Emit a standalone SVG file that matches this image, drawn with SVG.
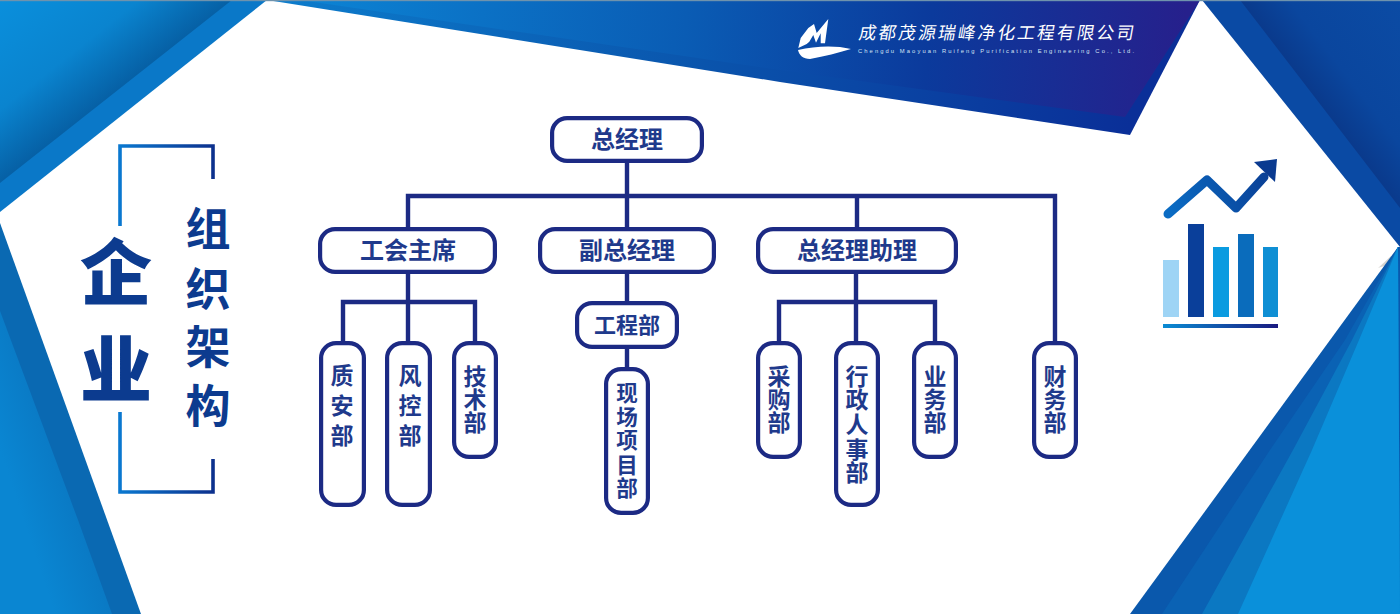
<svg xmlns="http://www.w3.org/2000/svg" width="1400" height="614" viewBox="0 0 1400 614">
<style>
.box{fill:#fff;stroke:#1c2a84;stroke-width:4.2}
.lbl{font-family:"Noto Sans CJK SC","Noto Sans",sans-serif;font-weight:700;fill:#1f3a8c;text-anchor:middle}
.h{font-size:24px}.v{font-size:23px}.vs{font-size:21.5px}
.conn{fill:none;stroke:#1c2a84;stroke-width:4.4}
.title{font-family:"Noto Sans CJK SC","Noto Sans",sans-serif;fill:#0c3b8f;text-anchor:middle}
</style>
<defs>
<linearGradient id="gTL" gradientUnits="userSpaceOnUse" x1="0" y1="0" x2="89" y2="113"><stop offset="0" stop-color="#0a8fdc"/><stop offset=".6" stop-color="#0a84cf"/><stop offset="1" stop-color="#0660a5"/></linearGradient>
<linearGradient id="gBand" gradientUnits="userSpaceOnUse" x1="280" y1="0" x2="1180" y2="80"><stop offset="0" stop-color="#0c86d6"/><stop offset=".45" stop-color="#0a5cb4"/><stop offset=".72" stop-color="#0b3a9c"/><stop offset="1" stop-color="#26208c"/></linearGradient>
<linearGradient id="gBandEdge" gradientUnits="userSpaceOnUse" x1="280" y1="0" x2="1130" y2="130"><stop offset="0" stop-color="#0c7ccc"/><stop offset=".5" stop-color="#0a54ac"/><stop offset="1" stop-color="#0a2f98"/></linearGradient>
<linearGradient id="gTR" gradientUnits="userSpaceOnUse" x1="1400" y1="0" x2="1300" y2="77"><stop offset="0" stop-color="#0b4ba4"/><stop offset=".7" stop-color="#0a469e"/><stop offset="1" stop-color="#0a3a8c"/></linearGradient>
<linearGradient id="gBL" gradientUnits="userSpaceOnUse" x1="0" y1="450" x2="90" y2="420"><stop offset="0" stop-color="#0a86d2"/><stop offset="1" stop-color="#0a70ba"/></linearGradient>
<linearGradient id="gBrk" gradientUnits="userSpaceOnUse" x1="120" y1="0" x2="215" y2="0"><stop offset="0" stop-color="#0a78d0"/><stop offset="1" stop-color="#0c2f8c"/></linearGradient>
<linearGradient id="gBase" gradientUnits="userSpaceOnUse" x1="1163" y1="0" x2="1278" y2="0"><stop offset="0" stop-color="#0a8cd4"/><stop offset="1" stop-color="#1a1a80"/></linearGradient>
<linearGradient id="gArrow" gradientUnits="userSpaceOnUse" x1="1165" y1="200" x2="1278" y2="165"><stop offset="0" stop-color="#0a6cc4"/><stop offset="1" stop-color="#0a3a90"/></linearGradient>
<linearGradient id="gCurl" gradientUnits="userSpaceOnUse" x1="1382" y1="250" x2="1396" y2="262"><stop offset="0" stop-color="#fff"/><stop offset="1" stop-color="#b8b4ae"/></linearGradient>
</defs>
<rect width="1400" height="614" fill="#fff"/>
<g id="background">
<polygon points="0,0 267,0 0,212" fill="#0a78c8"/>
<polygon points="0,0 232,0 0,183" fill="url(#gTL)"/>
<polygon points="0,223 141,614 0,614" fill="#0a69b2"/>
<polygon points="0,311 78,520 112,614 0,614" fill="url(#gBL)"/>
<polygon points="267,0 1200,0 1130,135 780,82" fill="url(#gBandEdge)"/>
<polygon points="300,0 1200,0 1125,117 780,70" fill="url(#gBand)"/>
<polygon points="1202,0 1400,0 1400,247" fill="#0a4aa4"/>
<polygon points="1240,0 1400,0 1400,208" fill="url(#gTR)"/>
<polygon points="1391,256 1378,268 1396,262" fill="url(#gCurl)"/>
<polygon points="1398,247 1400,247 1400,614 1130,614" fill="#0a58ac"/>
<path d="M1398,247 L1345,340 L1270,450 L1162,614 L1400,614Z" fill="#0a62b4"/>
<path d="M1398,247 L1352,340 L1293,450 L1202,614 L1400,614Z" fill="#0b78c2"/>
<path d="M1398,247 L1359,340 L1312,450 L1238,614 L1400,614Z" fill="#0a90da"/>
<rect width="1400" height="1.2" fill="#6f93ad"/>
</g>
<g id="logo">
<path d="M798.3,48 L800.7,38 L808.3,28 L814,24 L816.7,33 L828.3,19 L825,43.3 L820.7,43.3 L820.7,33.3 L816,42.7 L813.3,35 L809.3,41.7 L806.7,44Z" fill="#fff"/>
<path d="M798,50 C815,46 835,45 851,49 C838,53 825,56 810,59 C803,59 799,55 798,50Z" fill="#fff"/>
<text transform="translate(858 39) skewX(-10)" font-family="'Noto Sans CJK SC',sans-serif" font-size="17.5" fill="#fff" textLength="275">成都茂源瑞峰净化工程有限公司</text>
<text x="858" y="53" font-family="'Liberation Sans',sans-serif" font-size="5.8" fill="#d5e3f5" textLength="276">Chengdu Maoyuan Ruifeng Purification Engineering Co., Ltd.</text>
</g>
<g id="title">
<path d="M120,226 V146 H213 V179 M120,412 V492 H213 V459" fill="none" stroke="url(#gBrk)" stroke-width="3.6"/>
<text class="title" x="116 116" y="299 396" font-size="72" font-weight="900">企业</text>
<text class="title" x="208 208 208 208" y="246 306 364 423" font-size="45" font-weight="700">组织架构</text>
</g>
<g id="chart">
<rect x="1163" y="260" width="16" height="57" fill="#9ed4f5"/>
<rect x="1188" y="224" width="16" height="93" fill="#0a3f9a"/>
<rect x="1213" y="247" width="16" height="70" fill="#0a9be0"/>
<rect x="1238" y="234" width="16" height="83" fill="#0a6cbc"/>
<rect x="1263" y="247" width="15" height="70" fill="#0f8fd4"/>
<rect x="1163" y="324" width="115" height="4" fill="url(#gBase)"/>
<path d="M1168,214 L1207,180 L1236,208 L1264,177" fill="none" stroke="url(#gArrow)" stroke-width="9" stroke-linecap="round" stroke-linejoin="round"/>
<polygon points="1254,162 1277,159 1275,182" fill="#0a3a90"/>
</g>
<g id="connectors" class="conn">
<path d="M627,162 V227 M408,227 V196 H1055 V341 M857,196 V227"/>
<path d="M408,273 V341 M343,341 V302 H475 V341"/>
<path d="M627,273 V301 M627,349 V367"/>
<path d="M856,273 V341 M779,341 V302 H935 V341"/>
</g>
<g id="n-gm"><rect class="box" x="552.1" y="118.1" width="149.8" height="42.8" rx="15"/><text class="lbl h" x="627" y="148">总经理</text></g>
<g id="n-union"><rect class="box" x="320.1" y="229.1" width="174.8" height="42.8" rx="15"/><text class="lbl h" x="408" y="259">工会主席</text></g>
<g id="n-dgm"><rect class="box" x="540.1" y="229.1" width="173.8" height="42.8" rx="15"/><text class="lbl h" x="627" y="259">副总经理</text></g>
<g id="n-assist"><rect class="box" x="758.1" y="229.1" width="197.8" height="42.8" rx="15"/><text class="lbl h" x="857" y="259">总经理助理</text></g>
<g id="n-eng"><rect class="box" x="577.1" y="303.1" width="99.8" height="43.8" rx="15"/><text class="lbl" x="627" y="333" font-size="22">工程部</text></g>
<g id="n-site"><rect class="box" x="606.1" y="369.1" width="41.8" height="143.8" rx="15"/><text class="lbl vs" x="627 627 627 627 627" y="401 425 448 473 496">现场项目部</text></g>
<g id="n-qa"><rect class="box" x="321.1" y="343.1" width="42.8" height="161.8" rx="15"/><text class="lbl v" x="342 342 342" y="384 414 444">质安部</text></g>
<g id="n-risk"><rect class="box" x="387.1" y="343.1" width="42.8" height="161.8" rx="15"/><text class="lbl v" x="410 410 410" y="384 414 444">风控部</text></g>
<g id="n-tech"><rect class="box" x="454.1" y="343.1" width="41.8" height="113.8" rx="15"/><text class="lbl v" x="475 475 475" y="385 408 431">技术部</text></g>
<g id="n-buy"><rect class="box" x="758.1" y="343.1" width="41.8" height="113.8" rx="15"/><text class="lbl v" x="779 779 779" y="385 408 431">采购部</text></g>
<g id="n-hr"><rect class="box" x="836.1" y="343.1" width="41.8" height="161.8" rx="15"/><text class="lbl v" x="857 857 857 857 857" y="385 408 433 458 481">行政人事部</text></g>
<g id="n-biz"><rect class="box" x="914.1" y="343.1" width="41.8" height="113.8" rx="15"/><text class="lbl v" x="935 935 935" y="385 408 431">业务部</text></g>
<g id="n-fin"><rect class="box" x="1034.1" y="343.1" width="41.8" height="113.8" rx="15"/><text class="lbl v" x="1055 1055 1055" y="385 408 431">财务部</text></g>
</svg>
